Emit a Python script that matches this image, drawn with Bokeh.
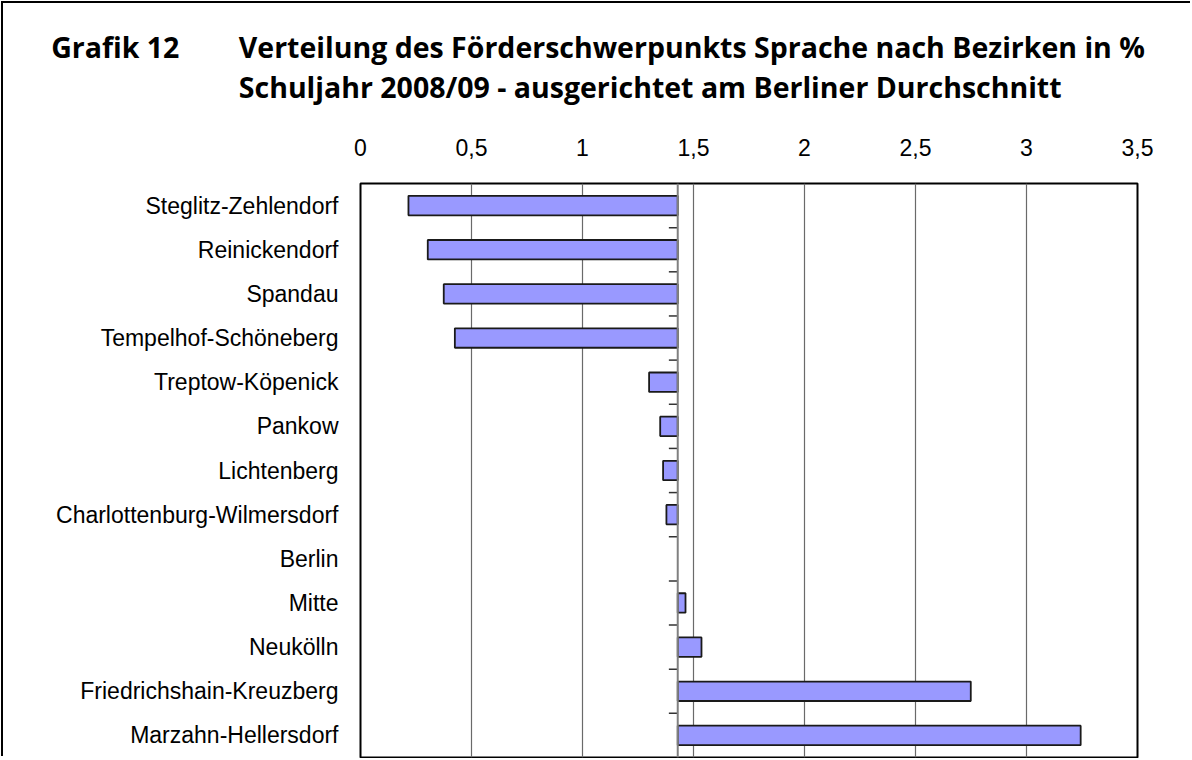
from bokeh.plotting import figure
from bokeh.models import FixedTicker, Span, ColumnDataSource, Range1d
from bokeh.layouts import column
from bokeh.embed import file_html
from bokeh.resources import INLINE
from bokeh.core.properties import value

# ---- data ----
districts = ["Steglitz-Zehlendorf", "Reinickendorf", "Spandau", "Tempelhof-Schöneberg",
             "Treptow-Köpenick", "Pankow", "Lichtenberg", "Charlottenburg-Wilmersdorf",
             "Berlin", "Mitte", "Neukölln", "Friedrichshain-Kreuzberg", "Marzahn-Hellersdorf"]
shares = [0.216, 0.303, 0.375, 0.425, 1.300, 1.350, 1.363, 1.378,
          1.429, 1.464, 1.536, 2.749, 3.244]
berlin_avg = 1.429
x_ticks = [0, 0.5, 1, 1.5, 2, 2.5, 3, 3.5]
x_tick_labels = ["0", "0,5", "1", "1,5", "2", "2,5", "3", "3,5"]
title_left = "Grafik 12"
title_line1 = "Verteilung des Förderschwerpunkts Sprache nach Bezirken in %"
title_line2 = "Schuljahr 2008/09 - ausgerichtet am Berliner Durchschnitt"

n = len(districts)
pos = [i + 0.5 for i in range(n)]

bar_src = ColumnDataSource(dict(
    y=[p_ for p_, v in zip(pos, shares) if v != berlin_avg],
    left=[min(v, berlin_avg) for v in shares if v != berlin_avg],
    right=[max(v, berlin_avg) for v in shares if v != berlin_avg],
))

W = 1189
TH = 120          # height of title strip
H = 755 - TH      # height of chart

# ---- title strip ----
tf = figure(width=W, height=TH, output_backend="svg", toolbar_location=None,
            x_axis_location=None, y_axis_location=None,
            x_range=Range1d(0, W), y_range=Range1d(TH, 0),
            min_border_left=0, min_border_right=0, min_border_top=0, min_border_bottom=0)
tf.frame_align = False
tf.grid.visible = False
tf.outline_line_color = None
tf.background_fill_color = "white"
tf.border_fill_color = "white"
tf.text(x=[47.7, 235.3, 235.3], y=[43, 43, 83], text=[title_left, title_line1, title_line2],
        text_font=value("Open Sans"), text_font_style="bold", text_font_size="28.5px",
        text_baseline="alphabetic", text_align="left", text_color="black")

# ---- chart ----
p = figure(width=W, height=H, output_backend="svg", toolbar_location=None,
           x_axis_location="above",
           x_range=Range1d(0, 3.5), y_range=Range1d(n, 0),
           min_border_left=357, min_border_right=55, min_border_top=60, min_border_bottom=1)
p.frame_align = False
p.background_fill_color = "white"
p.border_fill_color = "white"
p.outline_line_color = "black"
p.outline_line_width = 2

p.xgrid.ticker = FixedTicker(ticks=x_ticks)
p.xgrid.grid_line_color = "#6a6a6a"
p.xgrid.grid_line_width = 1.2
p.ygrid.visible = False

xa = p.xaxis[0]
xa.ticker = FixedTicker(ticks=x_ticks)
xa.major_label_overrides = {t: l for t, l in zip(x_ticks, x_tick_labels)}
xa.axis_line_color = None
xa.major_tick_line_color = None
xa.minor_tick_line_color = None
xa.major_label_standoff = 22
xa.major_label_text_font = "Liberation Sans"
xa.major_label_text_font_size = "23px"
xa.major_label_text_color = "black"

ya = p.yaxis[0]
ya.ticker = FixedTicker(ticks=pos)
ya.major_label_overrides = {t: d for t, d in zip(pos, districts)}
ya.axis_line_color = None
ya.major_tick_line_color = None
ya.minor_tick_line_color = None
ya.major_label_standoff = 16
ya.major_label_text_font = "Liberation Sans"
ya.major_label_text_font_size = "23px"
ya.major_label_text_color = "black"

# category axis crossing at Berlin average
p.add_layout(Span(location=berlin_avg, dimension="height", line_color="#808080", line_width=2))
tick_len = 0.04
bounds = list(range(1, n))
p.segment(x0=[berlin_avg - tick_len] * len(bounds), x1=[berlin_avg] * len(bounds),
          y0=bounds, y1=bounds, line_color="#333333", line_width=1.5)

p.hbar(y="y", left="left", right="right", height=0.44, source=bar_src,
       fill_color="#9999FF", line_color="#1a1a1a", line_width=1.8)

layout = column(tf, p, spacing=0,
                styles={"margin-left": "3px", "margin-top": "3px",
                        "box-shadow": "-2px -2px 0 0 black"})

open("out.html", "w").write(file_html(layout, INLINE))
